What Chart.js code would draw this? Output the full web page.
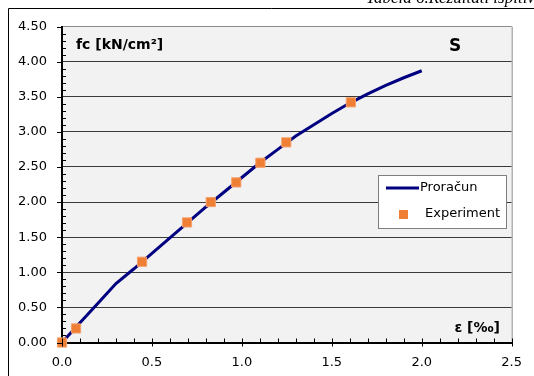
<!DOCTYPE html>
<html>
<head>
<meta charset="utf-8">
<script src="https://cdn.jsdelivr.net/npm/chart.js@4.4.0/dist/chart.umd.min.js"></script>
<style>
  html, body { margin: 0; padding: 0; background: #fff; overflow: hidden; }
  #wrap { width: 534px; height: 376px; }
</style>
</head>
<body>
<div id="wrap"><canvas id="chart" width="534" height="376"></canvas></div>
<script>
// proračun (calculated curve)
const calcStrain = [0, 0.1, 0.2, 0.3, 0.4, 0.5, 0.6, 0.7, 0.8, 0.9, 1.0, 1.1, 1.2, 1.3, 1.4, 1.5, 1.6, 1.7, 1.8, 1.9, 2.0];
const calcStress = [0, 0.28, 0.56, 0.84, 1.05, 1.27, 1.49, 1.71, 1.93, 2.14, 2.35, 2.56, 2.75, 2.94, 3.10, 3.26, 3.41, 3.54, 3.66, 3.77, 3.87];

// experiment points
const expStrain = [0, 0.078, 0.445, 0.695, 0.827, 0.969, 1.103, 1.247, 1.606];
const expStress = [0, 0.20, 1.15, 1.71, 2.00, 2.28, 2.56, 2.85, 3.42];

const xTicks = [0, 0.5, 1.0, 1.5, 2.0, 2.5];
const yTicks = [0, 0.5, 1.0, 1.5, 2.0, 2.5, 3.0, 3.5, 4.0, 4.5];

const FONT = '"DejaVu Sans", Arial, sans-serif';

const pts = (xs, ys) => xs.map((x, i) => ({ x: x, y: ys[i] }));

const decorPlugin = {
    id: 'decor',
    beforeDraw(chart) {
        const { ctx, chartArea: a } = chart;
        ctx.save();
        ctx.fillStyle = '#fff';
        ctx.fillRect(0, 0, chart.width, chart.height);
        ctx.fillStyle = '#f2f2f2';
        ctx.fillRect(a.left, a.top, a.right - a.left, a.bottom - a.top);
        // outer frame (cut off at right / bottom)
        ctx.strokeStyle = '#000';
        ctx.lineWidth = 1;
        ctx.beginPath();
        ctx.moveTo(8.5, chart.height);
        ctx.lineTo(8.5, 8.5);
        ctx.lineTo(chart.width, 8.5);
        ctx.stroke();
        // caption above, clipped by the top edge
        ctx.fillStyle = '#000';
        ctx.font = 'italic 17px "Liberation Serif", serif';
        ctx.textBaseline = 'alphabetic';
        ctx.textAlign = 'left';
        ctx.fillText('Tabela 6.Rezultati ispitivanja', 366, 3);
        ctx.restore();
    },
    afterDraw(chart) {
        const { ctx, chartArea: a, scales: { x, y } } = chart;
        ctx.save();
        // right border of plot
        ctx.strokeStyle = '#8c8c8c';
        ctx.lineWidth = 1;
        ctx.beginPath();
        ctx.moveTo(a.right + 0.5, a.top);
        ctx.lineTo(a.right + 0.5, a.bottom);
        ctx.stroke();

        // tick marks
        ctx.strokeStyle = '#000';
        ctx.lineWidth = 1;
        ctx.beginPath();
        for (let i = 0; i <= 45; i++) {
            const py = Math.round(y.getPixelForValue(i / 10)) + 0.5;
            if (i % 5 === 0) {
                ctx.moveTo(a.left - 5, py); ctx.lineTo(a.left, py);
            } else {
                ctx.moveTo(a.left, py); ctx.lineTo(a.left + 4, py);
            }
        }
        for (let i = 0; i <= 25; i++) {
            const px = Math.round(x.getPixelForValue(i / 10)) + 0.5;
            if (i % 5 === 0) {
                ctx.moveTo(px, a.bottom - 4); ctx.lineTo(px, a.bottom + 4);
            } else {
                ctx.moveTo(px, a.bottom - 4); ctx.lineTo(px, a.bottom);
            }
        }
        ctx.stroke();

        // labels inside plot
        ctx.fillStyle = '#000';
        ctx.textBaseline = 'alphabetic';
        ctx.textAlign = 'left';
        ctx.font = 'bold 14px ' + FONT;
        ctx.fillText('fc [kN/cm²]', 76, 49);
        ctx.font = 'bold 17px ' + FONT;
        ctx.textAlign = 'center';
        ctx.fillText('S', 455, 51);
        ctx.font = 'bold 14px ' + FONT;
        ctx.textAlign = 'right';
        ctx.fillText('ε [‰]', 500, 332);

        // legend box
        const ds = chart.data.datasets;
        ctx.fillStyle = '#fff';
        ctx.fillRect(378, 175, 128, 53);
        ctx.strokeStyle = '#7f7f7f';
        ctx.strokeRect(378.5, 175.5, 128, 53);
        ctx.strokeStyle = ds[0].borderColor;
        ctx.lineWidth = 3;
        ctx.beginPath();
        ctx.moveTo(386, 188); ctx.lineTo(419, 188);
        ctx.stroke();
        ctx.fillStyle = ds[1].backgroundColor;
        ctx.fillRect(399, 210, 9, 9);
        ctx.fillStyle = '#000';
        ctx.font = '13px ' + FONT;
        ctx.textAlign = 'left';
        ctx.textBaseline = 'middle';
        ctx.fillText(ds[0].label, 420, 188);
        ctx.fillText(ds[1].label, 425, 214);
        ctx.restore();
    }
};

new Chart(document.getElementById('chart'), {
    type: 'scatter',
    data: {
        datasets: [
            {
                label: 'Proračun',
                data: pts(calcStrain, calcStress),
                showLine: true,
                borderColor: '#000080',
                borderWidth: 3,
                pointRadius: 0,
                fill: false,
                tension: 0,
                clip: false,
                order: 1
            },
            {
                label: 'Experiment',
                data: pts(expStrain, expStress),
                pointStyle: 'rect',
                pointRadius: 6.5,
                backgroundColor: '#ee7f35',
                borderColor: '#f4a06a',
                borderWidth: 1,
                showLine: false,
                clip: false,
                order: 0
            }
        ]
    },
    options: {
        responsive: false,
        animation: false,
        devicePixelRatio: 1,
        layout: { padding: { left: 0, right: 19, top: 26.5, bottom: 0 } },
        plugins: {
            legend: { display: false },
            tooltip: { enabled: false },
            title: { display: false }
        },
        scales: {
            x: {
                type: 'linear',
                min: 0,
                max: 2.5,
                afterBuildTicks: s => { s.ticks = xTicks.map(v => ({ value: v })); },
                afterFit: s => { s.height = 33.5; },
                ticks: {
                    color: '#000',
                    font: { family: FONT, size: 13 },
                    padding: 12,
                    maxRotation: 0,
                    callback: v => Number(v).toFixed(1)
                },
                grid: { display: true, color: 'transparent', drawTicks: false },
                border: { display: true, color: '#000', width: 2 }
            },
            y: {
                type: 'linear',
                min: 0,
                max: 4.5,
                afterBuildTicks: s => { s.ticks = yTicks.map(v => ({ value: v })); },
                afterFit: s => { s.width = 62; },
                ticks: {
                    color: '#000',
                    font: { family: FONT, size: 13 },
                    padding: 15,
                    callback: v => Number(v).toFixed(2)
                },
                grid: {
                    drawTicks: false,
                    lineWidth: 1,
                    color: c => {
                        const v = c.tick ? c.tick.value : 0;
                        if (v === 0) return 'transparent';
                        if (v === 4.5) return '#8c8c8c';
                        return '#3a3a3a';
                    }
                },
                border: { display: true, color: '#000', width: 2 }
            }
        }
    },
    plugins: [decorPlugin]
});
</script>
</body>
</html>
